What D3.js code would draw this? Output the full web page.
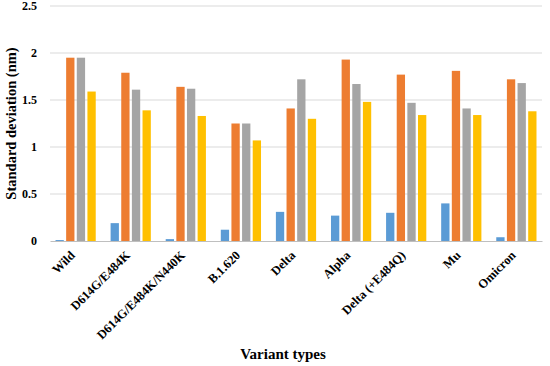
<!DOCTYPE html>
<html>
<head>
<meta charset="utf-8">
<script src="https://cdn.jsdelivr.net/npm/d3@7"></script>
<style>
  body { margin: 0; background: #fff; }
  text { font-family: "Liberation Serif", "Times New Roman", serif; font-weight: bold; }
</style>
</head>
<body>
<div id="chart"></div>
<script>
// chart values
let variants = ["Wild", "D614G/E484K", "D614G/E484K/N440K", "B.1.620", "Delta", "Alpha", "Delta (+E484Q)", "Mu", "Omicron"];
let series1 = [0.01, 0.19, 0.02, 0.12, 0.31, 0.27, 0.30, 0.40, 0.04];
let series2 = [1.95, 1.79, 1.64, 1.25, 1.41, 1.93, 1.77, 1.81, 1.72];
let series3 = [1.95, 1.61, 1.62, 1.25, 1.72, 1.67, 1.47, 1.41, 1.68];
let series4 = [1.59, 1.39, 1.33, 1.07, 1.30, 1.48, 1.34, 1.34, 1.38];
let yTicks = [0, 0.5, 1, 1.5, 2, 2.5];
let seriesColors = ["#5B9BD5", "#ED7D31", "#A5A5A5", "#FFC000"];

let width_svg = 550;
let height_svg = 366;
let margin = { top: 6, right: 8, left: 50, bottom: 125 };
let width = width_svg - margin.left - margin.right;
let height = height_svg - margin.top - margin.bottom;

let svg = d3.select("#chart").append("svg")
    .attr("width", width_svg)
    .attr("height", height_svg);

let chart = svg.append("g")
    .attr("transform", `translate(${margin.left}, ${margin.top})`);

let allSeries = [series1, series2, series3, series4];
let rows = variants.map((v, i) => ({ name: v, vals: allSeries.map(s => s[i]) }));

let x = d3.scaleBand().domain(variants).range([0, width]).paddingInner(0.27).paddingOuter(0.1);
let xInner = d3.scaleBand().domain(d3.range(4)).range([0, x.bandwidth()]).paddingInner(0.22);
let y = d3.scaleLinear().domain([0, 2.5]).range([height, 0]);

// gridlines
chart.append("g").selectAll("line")
    .data(yTicks.filter(t => t > 0))
    .join("line")
    .attr("x1", 0).attr("x2", width)
    .attr("y1", d => y(d)).attr("y2", d => y(d))
    .attr("stroke", "#d9d9d9").attr("stroke-width", 1);

// y axis labels
let yAxis = chart.append("g")
    .call(d3.axisLeft(y).tickValues(yTicks).tickFormat(d => d).tickSize(0).tickPadding(13));
yAxis.select(".domain").remove();
yAxis.selectAll("text")
    .style("font-size", "12px")
    .style("font-family", "Liberation Serif, serif")
    .style("font-weight", "bold")
    .attr("fill", "#000");

// bars
let groups = chart.append("g").selectAll("g")
    .data(rows)
    .join("g")
    .attr("transform", d => `translate(${x(d.name)},0)`);

groups.selectAll("rect")
    .data(d => d.vals.map((v, k) => ({ k: k, v: v })))
    .join("rect")
    .attr("x", d => xInner(d.k))
    .attr("width", xInner.bandwidth())
    .attr("y", d => y(d.v))
    .attr("height", d => y(0) - y(d.v))
    .attr("fill", d => seriesColors[d.k]);

// x axis
let xAxis = chart.append("g")
    .attr("transform", `translate(0, ${height})`)
    .call(d3.axisBottom(x).tickSize(0).tickPadding(0));
xAxis.select(".domain").attr("stroke", "#bfbfbf");
xAxis.selectAll("text")
    .style("font-size", "12.5px")
    .style("font-family", "Liberation Serif, serif")
    .style("font-weight", "bold")
    .attr("fill", "#000")
    .attr("text-anchor", "end")
    .attr("dy", "0.35em")
    .attr("transform", "translate(-3, 12) rotate(-45)");

// axis titles
svg.append("text")
    .attr("transform", `translate(16, ${margin.top + height / 2}) rotate(-90)`)
    .attr("text-anchor", "middle")
    .style("font-size", "14.5px")
    .text("Standard deviation (nm)");

svg.append("text")
    .attr("x", 283)
    .attr("y", 359)
    .attr("text-anchor", "middle")
    .style("font-size", "15px")
    .text("Variant types");
</script>
</body>
</html>
